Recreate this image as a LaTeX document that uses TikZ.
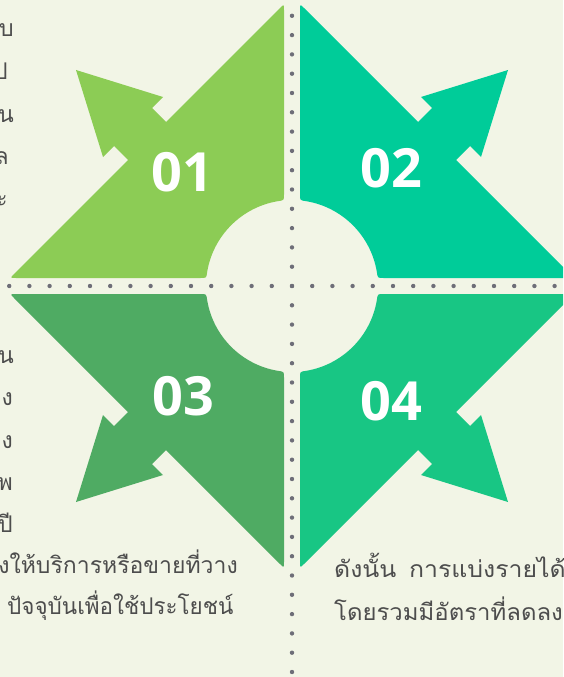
\documentclass[tikz,border=0pt]{standalone}
\usepackage{fontspec}
\newfontfamily\thaifont[Script=Thai]{Loma}
\newfontfamily\numfont{Open Sans}
\definecolor{bgc}{HTML}{F2F5E6}
\definecolor{cone}{HTML}{8CCC55}
\definecolor{ctwo}{HTML}{00CC99}
\definecolor{cthree}{HTML}{4FAB63}
\definecolor{cfour}{HTML}{18C684}
\definecolor{dotc}{HTML}{6E6E78}
\definecolor{txtc}{HTML}{4D4D4D}
\tikzset{
  num/.style={text=white, font=\numfont\bfseries\fontsize{54}{54}\selectfont, inner sep=0pt},
  thtxt/.style={text=txtc, font=\thaifont\fontsize{23}{27}\selectfont, inner sep=0pt},
  dotmark/.style={fill=dotc}
}
\begin{document}
\begin{tikzpicture}[x=1pt,y=-1pt]
\useasboundingbox (0,0) rectangle (563,677);
\clip (0,0) rectangle (563,677);
\fill[bgc] (0,0) rectangle (563,677);
% four arrow quadrants
\foreach \sx/\sy/\col in {1/1/cone, -1/1/ctwo, 1/-1/cthree, -1/-1/cfour}{
  \begin{scope}[shift={(292,286)}, xscale=\sx, yscale=\sy]
    \fill[\col] (-8,-91.6) -- (-8,-276) .. controls (-8,-282) .. (-12.2,-277.8)
      -- (-126,-164) -- (-140,-178) -- (-129,-189) -- (-216,-216)
      -- (-189,-129) -- (-178,-140) -- (-164,-126)
      -- (-277.8,-12.2) .. controls (-282,-8) .. (-276,-8)
      -- (-91.6,-8) .. controls (-85.6,-8) .. (189.3:86)
      arc[start angle=189.3, end angle=260.66, radius=86]
      .. controls (-8,-85.6) .. (-8,-91.6) -- cycle;
  \end{scope}
}
% dotted dividers
\foreach \k in {-14,...,20}{
  \fill[dotmark] (292,{286+19.3*\k}) circle[radius=2.2];
}
\foreach \k in {-14,...,13}{
  \fill[dotmark] ({292+20.2*\k},286) circle[radius=2.2];
}
% numbers
\node[num] (n1) at (182,172) {01};
\node[num] (n2) at (391,168) {02};
\node[num] (n3) at (183,396) {03};
\node[num] (n4) at (391,401) {04};
% left upper text fragments
\node[thtxt, anchor=base east] (a1) at (14,37) {บ};
\node[thtxt, anchor=base east] (a2) at (8,79) {ป};
\node[thtxt, anchor=base east] (a3) at (14,122) {น};
\node[thtxt, anchor=base east] (a4) at (9,164) {ล};
\node[thtxt, anchor=base east] (a5) at (8,206) {ะ};
% left lower text fragments
\node[thtxt, anchor=base east] (b1) at (14,363) {น};
\node[thtxt, anchor=base east] (b2) at (13,405) {ง};
\node[thtxt, anchor=base east] (b3) at (13,448) {ง};
\node[thtxt, anchor=base east] (b4) at (13,490) {พ};
\node[thtxt, anchor=base east] (b5) at (13,532) {ปี};
\node[thtxt, anchor=base east] (b6) at (238,573) {งให้บริการหรือขายที่วาง};
\node[thtxt, anchor=base west] (b7) at (7,614) {\scalebox{0.975}[1]{ปัจจุบันเพื่อใช้ประโยชน์}};
% right text
\node[thtxt, anchor=base west] (r1) at (334,577) {\scalebox{1.08}[1]{ดังนั้น \hspace{4pt}การแบ่งรายได้}};
\node[thtxt, anchor=base west] (r2) at (334,620) {\scalebox{1.04}[1]{โดยรวมมีอัตราที่ลดลง}};
\end{tikzpicture}
\end{document}
